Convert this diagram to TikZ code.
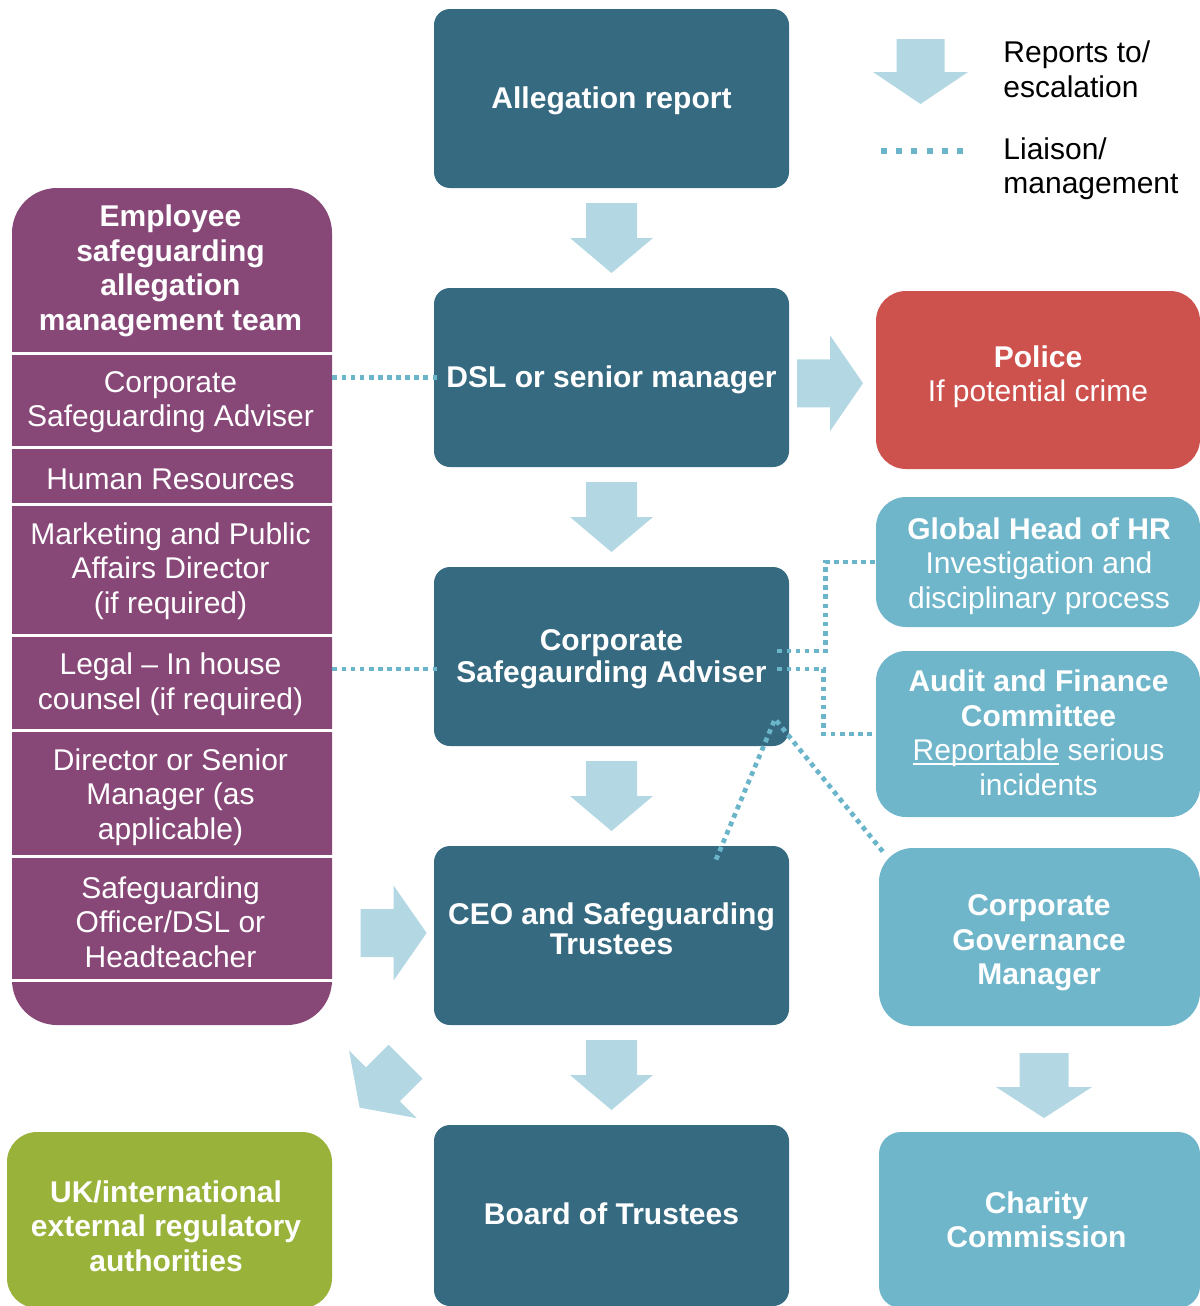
\documentclass[tikz,border=0pt]{standalone}
\usepackage{fontspec}
\setmainfont{Liberation Sans}
\usetikzlibrary{calc}
\definecolor{cdark}{HTML}{366A81}
\definecolor{cpurple}{HTML}{874878}
\definecolor{cred}{HTML}{CD524E}
\definecolor{clight}{HTML}{6FB6CB}
\definecolor{carrow}{HTML}{B3D8E3}
\definecolor{cgreen}{HTML}{98B23A}
\definecolor{cdot}{HTML}{6BB5CB}
\newcommand\fs{\fontsize{15}{17.25}\selectfont}
\newcommand\myuline[1]{\setbox0\hbox{#1}\rlap{\rule[-1.9pt]{\wd0}{0.9pt}}\box0\relax}
\newcommand\blockarr[6]{%
  \begin{scope}[shift={#1}, rotate=#2]
    \fill[carrow] (-#3/2,-#4/2) -- (#3/2-#6,-#4/2) -- (#3/2-#6,-#5/2) -- (#3/2,0)
      -- (#3/2-#6,#5/2) -- (#3/2-#6,#4/2) -- (-#3/2,#4/2) -- cycle;
  \end{scope}}
\begin{document}
\begin{tikzpicture}[x=0.5pt,y=-0.5pt,
  mainbox/.style={rectangle, rounded corners=8pt, fill=cdark, minimum width=177.5pt, minimum height=89.5pt, inner sep=0pt},
  sidebox/.style={rectangle, rounded corners=15pt, fill=clight, minimum width=162pt, inner sep=0pt},
  wtext/.style={text=white, align=center, font=\fs, inner sep=0pt},
  btext/.style={text=white, align=center, font=\bfseries\fs, inner sep=0pt},
  liaison/.style={draw=cdot, line width=2.35pt, dash pattern=on 2.35pt off 2.2pt},
  legdots/.style={draw=cdot, line width=3pt, dash pattern=on 3pt off 4.6pt}]
\useasboundingbox (0,0) rectangle (1199,1306);

% ---- central column
\node[mainbox] (alleg) at (611.5,98.5) {};
\node[btext] (alleg-t) at (611.5,100.5) {Allegation report};
\node[mainbox] (dsl) at (611.5,377.5) {};
\node[btext] (dsl-t) at (611.5,379.5) {DSL or senior manager};
\node[mainbox] (csa) at (611.5,656.5) {};
\node[btext, font=\bfseries\fontsize{15}{16}\selectfont] (csa-t) at (611.5,659.5) {Corporate\\Safegaurding Adviser};
\node[mainbox] (ceo) at (611.5,935.5) {};
\node[btext, font=\bfseries\fontsize{15}{15}\selectfont] (ceo-t) at (611.5,928.5) {CEO and Safeguarding\\Trustees};
\node[mainbox, minimum height=90.5pt] (board) at (611.5,1215.5) {};
\node[btext] (board-t) at (611.5,1213.5) {Board of Trustees};

% ---- right column
\node[sidebox, fill=cred, minimum height=89pt] (police) at (1038,380) {};
\node[wtext, font=\fontsize{15}{17}\selectfont] (police-t) at (1038,377) {\textbf{Police}\\If potential crime};
\node[sidebox, minimum height=65pt] (ghr) at (1038,562) {};
\node[wtext] (ghr-t) at (1039,566) {\textbf{Global Head of HR}\\Investigation and\\disciplinary process};
\node[sidebox, minimum height=83pt] (audit) at (1038,734) {};
\node[wtext] (audit-t) at (1038.5,733) {\textbf{Audit and Finance}\\\textbf{Committee}\\\myuline{Reportable} serious\\incidents};
\node[sidebox, minimum width=160.5pt, minimum height=89pt, rounded corners=17pt] (cgm) at (1039.5,937) {};
\node[btext] (cgm-t) at (1039,943) {Corporate\\Governance\\Manager};
\node[sidebox, minimum width=160.5pt, minimum height=88pt, rounded corners=11pt] (charity) at (1039.5,1220) {};
\node[btext] (charity-t) at (1036.5,1220) {Charity\\Commission};

% ---- green box
\node[sidebox, fill=cgreen, minimum width=162.5pt, minimum height=88pt] (green) at (169.5,1220) {};
\node[btext] (green-t) at (166,1226) {UK/international\\external regulatory\\authorities};

% ---- purple team column
\node[rectangle, rounded corners=22.5pt, fill=cpurple, minimum width=160pt, minimum height=418.5pt, inner sep=0pt] (team) at (172,606.5) {};
\foreach \yy in {353,447,504,635,730,856,980}
  \draw[white, line width=1.5pt] (12,\yy) -- (333,\yy);
\node[btext] (t0) at (170.5,271) {Employee\\safeguarding\\allegation\\management team};
\node[wtext] (t1) at (170.5,402) {Corporate\\Safeguarding Adviser};
\node[wtext] (t2) at (170.5,479) {Human Resources};
\node[wtext] (t3) at (170.5,571) {Marketing and Public\\Affairs Director\\(if required)};
\node[wtext] (t4) at (170.5,684) {Legal – In house\\counsel (if required)};
\node[wtext] (t5) at (170.5,797) {Director or Senior\\Manager (as\\applicable)};
\node[wtext] (t6) at (170.5,922) {Safeguarding\\Officer/DSL or\\Headteacher};

% ---- block arrows
\blockarr{($(alleg.south)!0.5!(dsl.north)$)}{-90}{70}{51}{83}{35}
\blockarr{($(dsl.south)!0.5!(csa.north)$)}{-90}{70}{51}{83}{35}
\blockarr{($(csa.south)!0.5!(ceo.north)$)}{-90}{70}{51}{83}{35}
\blockarr{($(ceo.south)!0.5!(board.north)$)}{-90}{70}{51}{83}{35}
\blockarr{($(dsl.east)!0.5!(police.west)+(-2.5,4.5)$)}{0}{66}{48}{96}{33}
\blockarr{($(ceo.west)+(-40,-2.5)$)}{0}{66}{48}{95}{33}
\blockarr{($(board.north west)+(-51,-40)$)}{-135}{65}{48}{96}{33}
\blockarr{($(cgm.south)!0.5!(charity.north)+(4.5,6.5)$)}{-90}{65}{49}{96}{31}

% ---- liaison lines
\draw[liaison] (team.east |- dsl.west) -- ([xshift=3pt]dsl.west);
\coordinate (c2) at ([yshift=-6.25pt]csa.west);
\draw[liaison] (team.east |- c2) -- ([xshift=3pt]c2);
\coordinate (r1) at ([xshift=-6pt,yshift=2.75pt]csa.east);
\draw[liaison] (r1) -| ($(ghr.west)+(-50,0)$) -- (ghr.west);
\coordinate (r2) at ([xshift=-6pt,yshift=-6.25pt]csa.east);
\draw[liaison] (r2) -| ($(audit.west)+(-52,0)$) -- (audit.west);
\coordinate (peak) at (775,719);
\draw[liaison] ([shift={(52.25pt,-7pt)}]ceo.north) -- (peak) -- ([shift={(2.5pt,-2.5pt)}]cgm.north west);

% ---- legend
\blockarr{(920.5,71.5)}{-90}{65}{48}{95}{32}
\coordinate (l1) at (881,151);
\coordinate (l2) at (963,151);
\draw[legdots] (l1) -- (l2);
\node[anchor=west, align=left, font=\fs, inner sep=0pt] (lgA) at (1003,69.5) {Reports to/\\escalation};
\node[anchor=west, align=left, font=\fs, inner sep=0pt] (lgB) at (1003,168.5) {Liaison/\\management};
\end{tikzpicture}
\end{document}
